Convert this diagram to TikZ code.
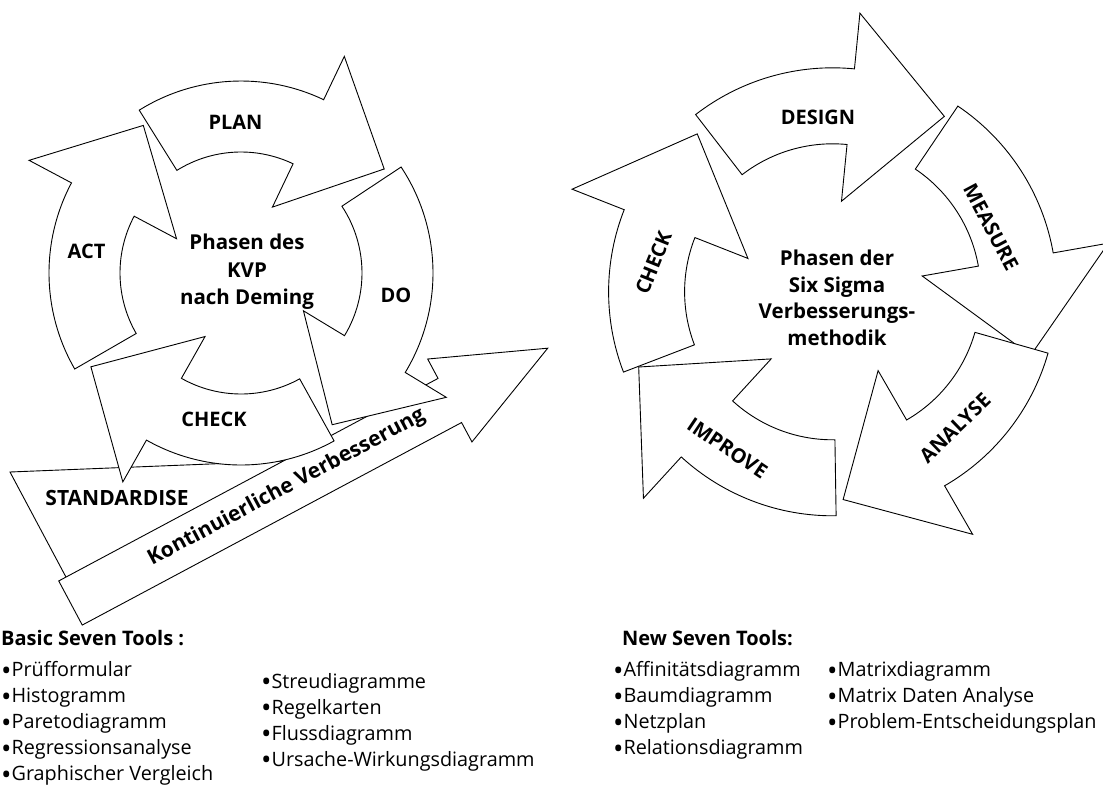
\documentclass[tikz,border=0pt]{standalone}
\usepackage{fontspec}
\usepackage{graphicx}
\setmainfont{Open Sans}
% list bullet, a little larger than the font's own
\newcommand{\lbul}{\raisebox{-0.2em}{\scalebox{1.4}{•}}}
\begin{document}
\begin{tikzpicture}[x=1pt, y=-1pt, line join=miter,
  blockarrow/.style={draw=black, fill=white, line width=0.9pt},
  phase/.style={font=\bfseries\fontsize{20}{24}\selectfont, inner sep=0pt},
  centre/.style={font=\bfseries\fontsize{20.5}{24}\selectfont, inner sep=0pt, anchor=base},
  head/.style={font=\bfseries\fontsize{20}{24}\selectfont, inner sep=0pt, anchor=base west},
  tool/.style={font=\fontsize{19.8}{24}\selectfont, inner sep=0pt, anchor=base west}]

\useasboundingbox (0,0) rectangle (1103,787);

% one curved arrow of a cycle: tail angle, end of body, tip angle
\newcommand{\ringarrow}[3]{%
  \draw[blockarrow] (#1:\rOut) arc[start angle=#1, end angle=#2, radius=\rOut]
    -- (#2:\rBarbOut) -- (#3:\rTip) -- (#2:\rBarbIn) -- (#2:\rIn)
    arc[start angle=#2, end angle=#1, radius=\rIn] -- cycle;}

% ---------- wedge under the rising arrow ----------
\draw[blockarrow] (10,472) -- (285,461) -- (75,594) -- cycle;
\node[phase, font=\bfseries\fontsize{21}{24}\selectfont] (std) at (117,497.5) {STANDARDISE};

% ---------- rising arrow: continuous improvement ----------
\begin{scope}[shift={(70.5,603)}, rotate=28.1]
  \draw[blockarrow] (0,-25) -- (430,-25) -- (430,-47) -- (541,0)
    -- (430,47) -- (430,25) -- (0,25) -- cycle;
  \node[phase, rotate=28.1, font=\bfseries\fontsize{21}{24}\selectfont] (kvb) at (245,0)
    {Kontinuierliche Verbesserung};
\end{scope}

% ---------- PDCA cycle ----------
\begin{scope}[shift={(241,273)}, yscale=-1]
  \def\rIn{121}\def\rOut{192}\def\rBarbIn{73}\def\rBarbOut{240}\def\rTip{177}
  \ringarrow{122}{64.5}{36}     % PLAN
  \ringarrow{33.5}{-31.2}{-59}  % DO
  \ringarrow{-61}{-119.5}{-148} % CHECK
  \ringarrow{210}{152}{123.5}   % ACT
\end{scope}
\node[phase] (plan) at (235.5,122.5) {PLAN};
\node[phase] (do) at (396,295) {DO};
\node[phase] (check) at (214,419) {CHECK};
\node[phase] (act) at (86.5,251) {ACT};
\node[centre] (kvp1) at (247,249.5) {Phasen des};
\node[centre] (kvp2) at (247,277) {KVP};
\node[centre] (kvp3) at (247,304) {nach Deming};

% ---------- Six Sigma cycle ----------
\begin{scope}[shift={(832.6,291.8)}, yscale=-1]
  \def\rIn{148}\def\rOut{224}\def\rBarbIn{91}\def\rBarbOut{280}\def\rTip{208}
  \ringarrow{127.7}{84.4}{57.5}    % DESIGN
  \ringarrow{56}{10}{-17.8}        % MEASURE
  \ringarrow{-15.9}{-60}{-87.1}    % ANALYSE
  \ringarrow{-89.1}{-132.5}{-158.8}% IMPROVE
  \ringarrow{201}{158.5}{130.6}    % CHECK
\end{scope}
\node[phase] (design) at (818,117) {DESIGN};
\node[phase, rotate=-62] (measure) at (991,227) {MEASURE};
\node[phase, rotate=44] (analyse) at (955,428) {ANALYSE};
\node[phase, rotate=-34] (improve) at (727.5,448) {IMPROVE};
\node[phase, rotate=68] (check6) at (653.5,263) {CHECK};
\node[centre] (ss1) at (837,265.5) {Phasen der};
\node[centre] (ss2) at (837,292) {Six Sigma};
\node[centre] (ss3) at (837,318.5) {Verbesserungs-};
\node[centre] (ss4) at (837,345) {methodik};

% ---------- tool lists ----------
\node[head] (basic) at (1,645) {Basic Seven Tools :};
\node[tool] (b1) at (1,676.5) {\lbul Prüfformular};
\node[tool] (b2) at (1,702.5) {\lbul Histogramm};
\node[tool] (b3) at (1,728.5) {\lbul Paretodiagramm};
\node[tool] (b4) at (1,754.5) {\lbul Regressionsanalyse};
\node[tool] (b5) at (1,780.5) {\lbul Graphischer Vergleich};
\node[tool] (b6) at (261,688) {\lbul Streudiagramme};
\node[tool] (b7) at (261,714) {\lbul Regelkarten};
\node[tool] (b8) at (261,740) {\lbul Flussdiagramm};
\node[tool] (b9) at (261,766) {\lbul Ursache-Wirkungsdiagramm};

\node[head] (new) at (622,645) {New Seven Tools:};
\node[tool] (n1) at (613,676.5) {\lbul Affinitätsdiagramm};
\node[tool] (n2) at (613,702.5) {\lbul Baumdiagramm};
\node[tool] (n3) at (613,728.5) {\lbul Netzplan};
\node[tool] (n4) at (613,754.5) {\lbul Relationsdiagramm};
\node[tool] (n5) at (827,676.5) {\lbul Matrixdiagramm};
\node[tool] (n6) at (827,702.5) {\lbul Matrix Daten Analyse};
\node[tool] (n7) at (827,728.5) {\lbul Problem-Entscheidungsplan};
\end{tikzpicture}
\end{document}
